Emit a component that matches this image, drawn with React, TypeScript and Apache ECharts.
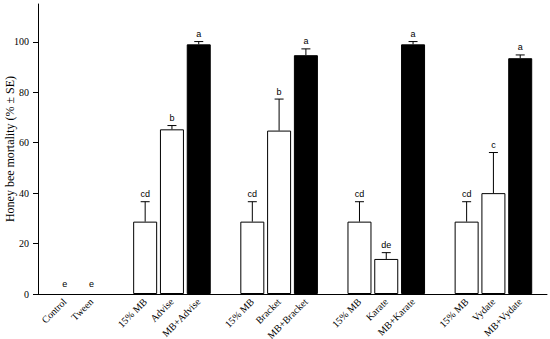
import React, { useEffect, useRef } from "react";
import * as echarts from "echarts";

const categories = ["", "Control", "Tween", "", "15% MB", "Advise", "MB+Advise", "", "15% MB", "Bracket", "MB+Bracket", "", "15% MB", "Karate", "MB+Karate", "", "15% MB", "Vydate", "MB+Vydate", ""];
const means: (number | null)[] = [null, 0, 0, null, 28.7, 65.3, 99.0, null, 28.7, 64.8, 94.7, null, 28.7, 13.9, 99.0, null, 28.7, 40.0, 93.5, null];
const se: (number | null)[] = [null, 0, 0, null, 7.9, 1.5, 1.1, null, 7.9, 12.5, 2.5, null, 7.9, 2.5, 1.1, null, 7.9, 16.1, 1.3, null];
const letters = ["", "e", "e", "", "cd", "b", "a", "", "cd", "b", "a", "", "cd", "de", "a", "", "cd", "c", "a", ""];
const mixture = [false, false, false, false, false, false, true, false, false, false, true, false, false, false, true, false, false, false, true, false];
const yTicks = [0, 20, 40, 60, 80, 100];
const yTitle = "Honey bee mortality (% ± SE)";

export default function App() {
  const ref = useRef<HTMLDivElement>(null);
  useEffect(() => {
    if (!ref.current) return;
    const chart = echarts.init(ref.current, null, { renderer: "svg" });
    const barData = means.map((m, i) =>
      m === null || m === 0
        ? null
        : {
            value: m,
            itemStyle: {
              color: mixture[i] ? "#000" : "#fff",
              borderColor: "#000",
              borderWidth: 1,
            },
          }
    );
    const errData = means
      .map((m, i) => (m === null ? null : [i, m, m + (se[i] as number)]))
      .filter((d) => d !== null);
    const errLetters = means
      .map((m, i) => (m === null ? null : letters[i]))
      .filter((d) => d !== null);
    chart.setOption({
      animation: false,
      grid: { left: 38, right: 3, top: 4, bottom: 45, containLabel: false, outerBoundsMode: "none" },
      graphic: [
        {
          type: "text",
          x: 10,
          y: 149,
          rotation: Math.PI / 2,
          style: {
            text: yTitle,
            fontFamily: "Liberation Serif",
            fontSize: 12,
            fill: "#000",
            align: "center",
            verticalAlign: "middle",
          },
        },
      ],
      xAxis: {
        type: "category",
        data: categories,
        boundaryGap: false,
        axisLine: { lineStyle: { color: "#000", width: 1 } },
        axisTick: { show: false },
        axisLabel: {
          interval: 0,
          rotate: 45,
          margin: 6,
          fontFamily: "Liberation Serif",
          fontSize: 10,
          color: "#000",
        },
        splitLine: { show: false },
      },
      yAxis: {
        type: "value",
        min: 0,
        max: 115,
        interval: 20,
        axisLine: { show: true, lineStyle: { color: "#000", width: 1 } },
        axisTick: { show: true, length: 5, lineStyle: { color: "#000" }, customValues: yTicks },
        axisLabel: {
          margin: 9,
          fontFamily: "Liberation Serif",
          fontSize: 10,
          color: "#000",
          customValues: yTicks,
        },
        splitLine: { show: false },
      },
      series: [
        {
          type: "bar",
          data: barData,
          barWidth: 24,
          z: 2,
        },
        {
          type: "custom",
          z: 3,
          data: errData,
          renderItem: (params: any, api: any) => {
            const x = api.value(0);
            const m = api.value(1);
            const top = api.value(2);
            const pBase = api.coord([x, m]);
            const pTop = api.coord([x, top]);
            const letter = errLetters[params.dataIndex] as string;
            const children: any[] = [];
            if (top > m) {
              children.push({
                type: "line",
                shape: { x1: pBase[0], y1: pBase[1], x2: pTop[0], y2: pTop[1] },
                style: { stroke: "#000", lineWidth: 1 },
              });
              children.push({
                type: "line",
                shape: { x1: pTop[0] - 4.5, y1: pTop[1], x2: pTop[0] + 4.5, y2: pTop[1] },
                style: { stroke: "#000", lineWidth: 1 },
              });
            }
            children.push({
              type: "text",
              x: pTop[0],
              y: pTop[1] - (top > 0 ? 3 : 6),
              style: {
                text: letter,
                fontFamily: "Liberation Sans",
                fontSize: 9,
                fill: "#000",
                align: "center",
                verticalAlign: "bottom",
              },
            });
            return { type: "group", children };
          },
        },
      ],
    });
    return () => chart.dispose();
  }, []);
  return <div ref={ref} style={{ width: 550, height: 339, position: "absolute", left: 0, top: 0 }} />;
}
